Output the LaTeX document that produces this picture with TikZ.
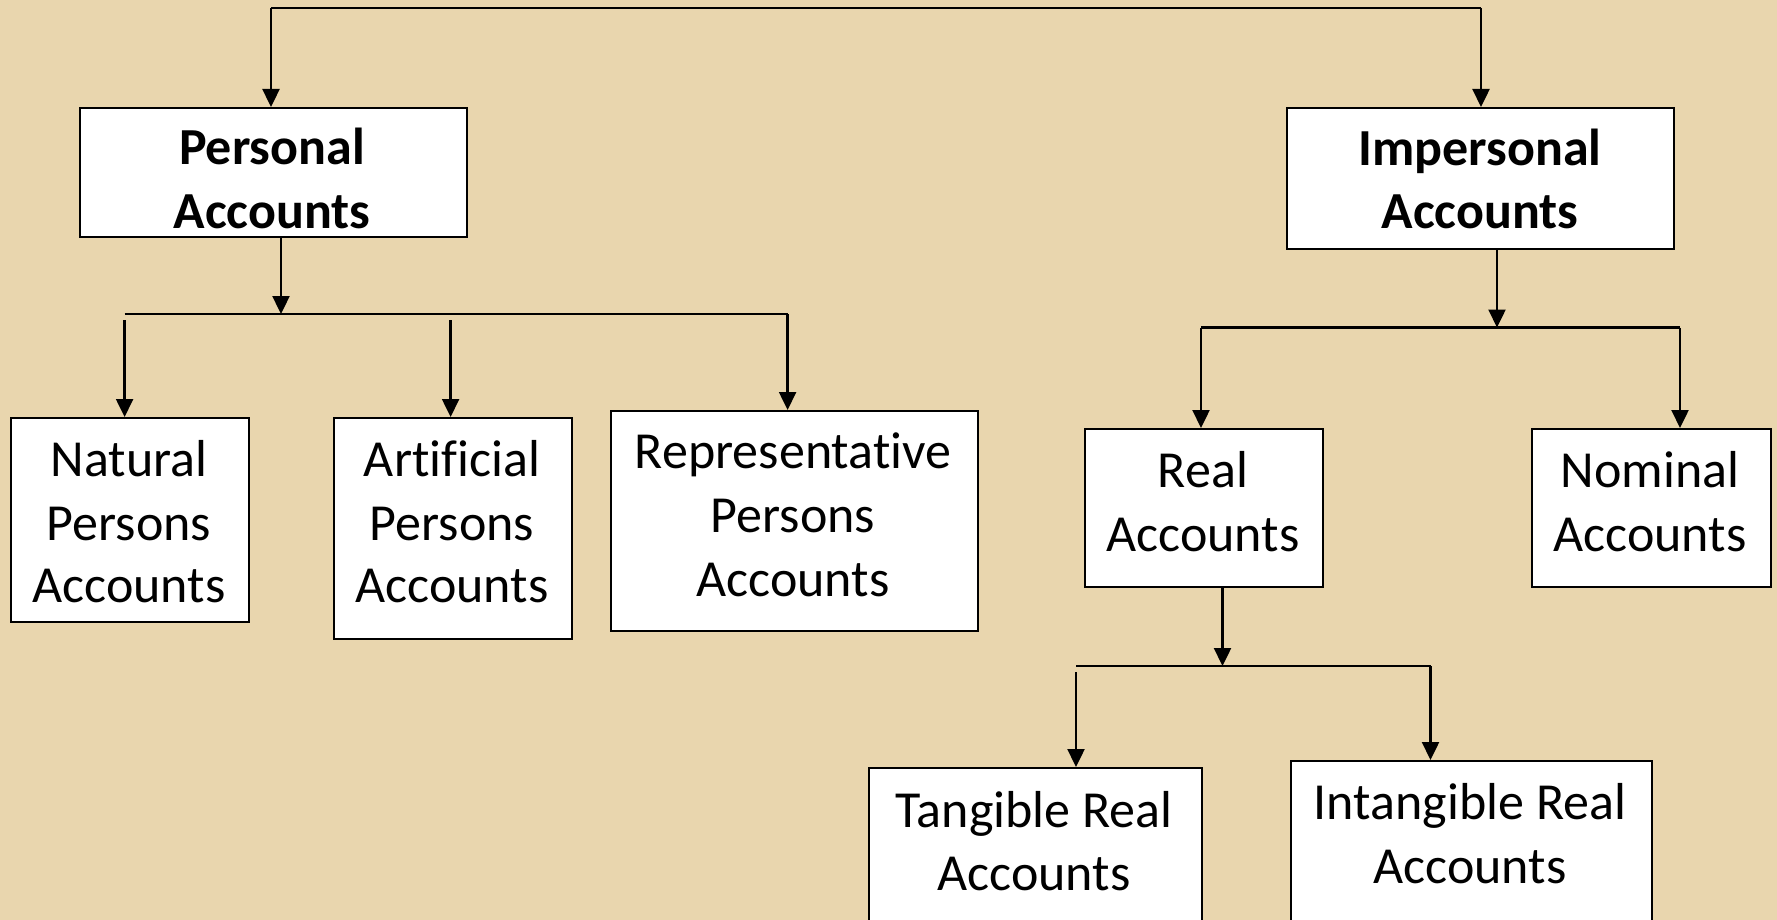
\documentclass[tikz,border=0pt]{standalone}
\usepackage{fontspec}
\setmainfont[Ligatures=NoCommon]{Carlito}
\usetikzlibrary{arrows.meta}
\definecolor{parch}{HTML}{E9D6AE}
\tikzset{
  box/.style={draw=black, line width=2pt, fill=white, inner sep=0pt, anchor=north west},
  lbl/.style={font=\fontsize{52}{64}\selectfont, align=center, anchor=base, inner sep=0pt},
  blbl/.style={font=\fontsize{52}{64}\selectfont\bfseries, align=center, anchor=base, inner sep=0pt},
  ln/.style={line width=2.4pt, draw=black},
  arr/.style={line width=2.4pt, draw=black, -{Triangle[length=18pt,width=17pt]}},
}
\begin{document}
\begin{tikzpicture}[x=1pt,y=-1pt]
\useasboundingbox (0,0) rectangle (1777,920);
\clip (0,0) rectangle (1777,920);
\fill[parch] (0,0) rectangle (1777,920);

% boxes
\node[box, minimum width=387pt, minimum height=129pt] (personal) at (79,107) {};
\node[box, minimum width=387pt, minimum height=141pt] (impersonal) at (1286,107) {};
\node[box, minimum width=238pt, minimum height=204pt] (natural) at (10,417) {};
\node[box, minimum width=238pt, minimum height=221pt] (artificial) at (333,417) {};
\node[box, minimum width=367pt, minimum height=220pt] (repr) at (610,410) {};
\node[box, minimum width=238pt, minimum height=158pt] (real) at (1084,428) {};
\node[box, minimum width=239pt, minimum height=158pt] (nominal) at (1531,428) {};
\node[box, minimum width=333pt, minimum height=200pt] (tangible) at (868,767) {};
\node[box, minimum width=361pt, minimum height=200pt] (intangible) at (1290,760) {};

% texts
\node[blbl] (tpersonal1) at (272,165) {Personal};
\node[blbl] (tpersonal2) at (272,229) {Accounts};
\node[blbl] (timpersonal1) at (1480,166) {Impersonal};
\node[blbl] (timpersonal2) at (1480,229) {Accounts};
\node[lbl] (tnat1) at (129,476) {Natural};
\node[lbl] (tnat2) at (129,540) {Persons};
\node[lbl] (tnat3) at (129,602) {Accounts};
\node[lbl] (tart1) at (452,476) {Artificial};
\node[lbl] (tart2) at (452,540) {Persons};
\node[lbl] (tart3) at (452,602) {Accounts};
\node[lbl] (trep1) at (793,468) {Representative};
\node[lbl] (trep2) at (793,532) {Persons};
\node[lbl] (trep3) at (793,596) {Accounts};
\node[lbl] (treal1) at (1203,487) {Real};
\node[lbl] (treal2) at (1203,551) {Accounts};
\node[lbl] (tnom1) at (1650,487) {Nominal};
\node[lbl] (tnom2) at (1650,551) {Accounts};
\node[lbl] (ttan1) at (1034,827) {Tangible Real};
\node[lbl] (ttan2) at (1034,890) {Accounts};
\node[lbl] (tint1) at (1470,819) {Intangible Real};
\node[lbl] (tint2) at (1470,883) {Accounts};

% junction coordinates
\coordinate (topL) at (271,8);
\coordinate (topR) at (1481,8);
\coordinate (busP) at (281,314);
\coordinate (busPL) at (124.6,314);
\coordinate (busPR) at (787.6,314);
\coordinate (busPM) at (450.6,320);
\coordinate (busI) at (1497,327.5);
\coordinate (busIL) at (1201,327.5);
\coordinate (busIR) at (1680,327.5);
\coordinate (busR) at (1222.5,666);
\coordinate (busRL) at (1076,666);
\coordinate (busRR) at (1430.5,666);

% top bracket
\draw[ln] (topL) -- (topR);
\draw[arr] (topL) -- (topL |- personal.north);
\draw[arr] (topR) -- (topR |- impersonal.north);

% personal branch
\draw[arr] (busP |- personal.south) -- (busP);
\draw[ln] (busPL) -- (busPR);
\draw[arr] ([yshift=-6pt]busPL) -- (busPL |- natural.north);
\draw[arr] (busPM) -- (busPM |- artificial.north);
\draw[arr] (busPR) -- (busPR |- repr.north);

% impersonal branch
\draw[arr] (busI |- impersonal.south) -- (busI);
\draw[ln] (busIL) -- (busIR);
\draw[arr] (busIL) -- (busIL |- real.north);
\draw[arr] (busIR) -- (busIR |- nominal.north);

% real branch
\draw[arr] (busR |- real.south) -- (busR);
\draw[ln] (busRL) -- (busRR);
\draw[arr] ([yshift=-6pt]busRL) -- (busRL |- tangible.north);
\draw[arr] (busRR) -- (busRR |- intangible.north);
\end{tikzpicture}
\end{document}
